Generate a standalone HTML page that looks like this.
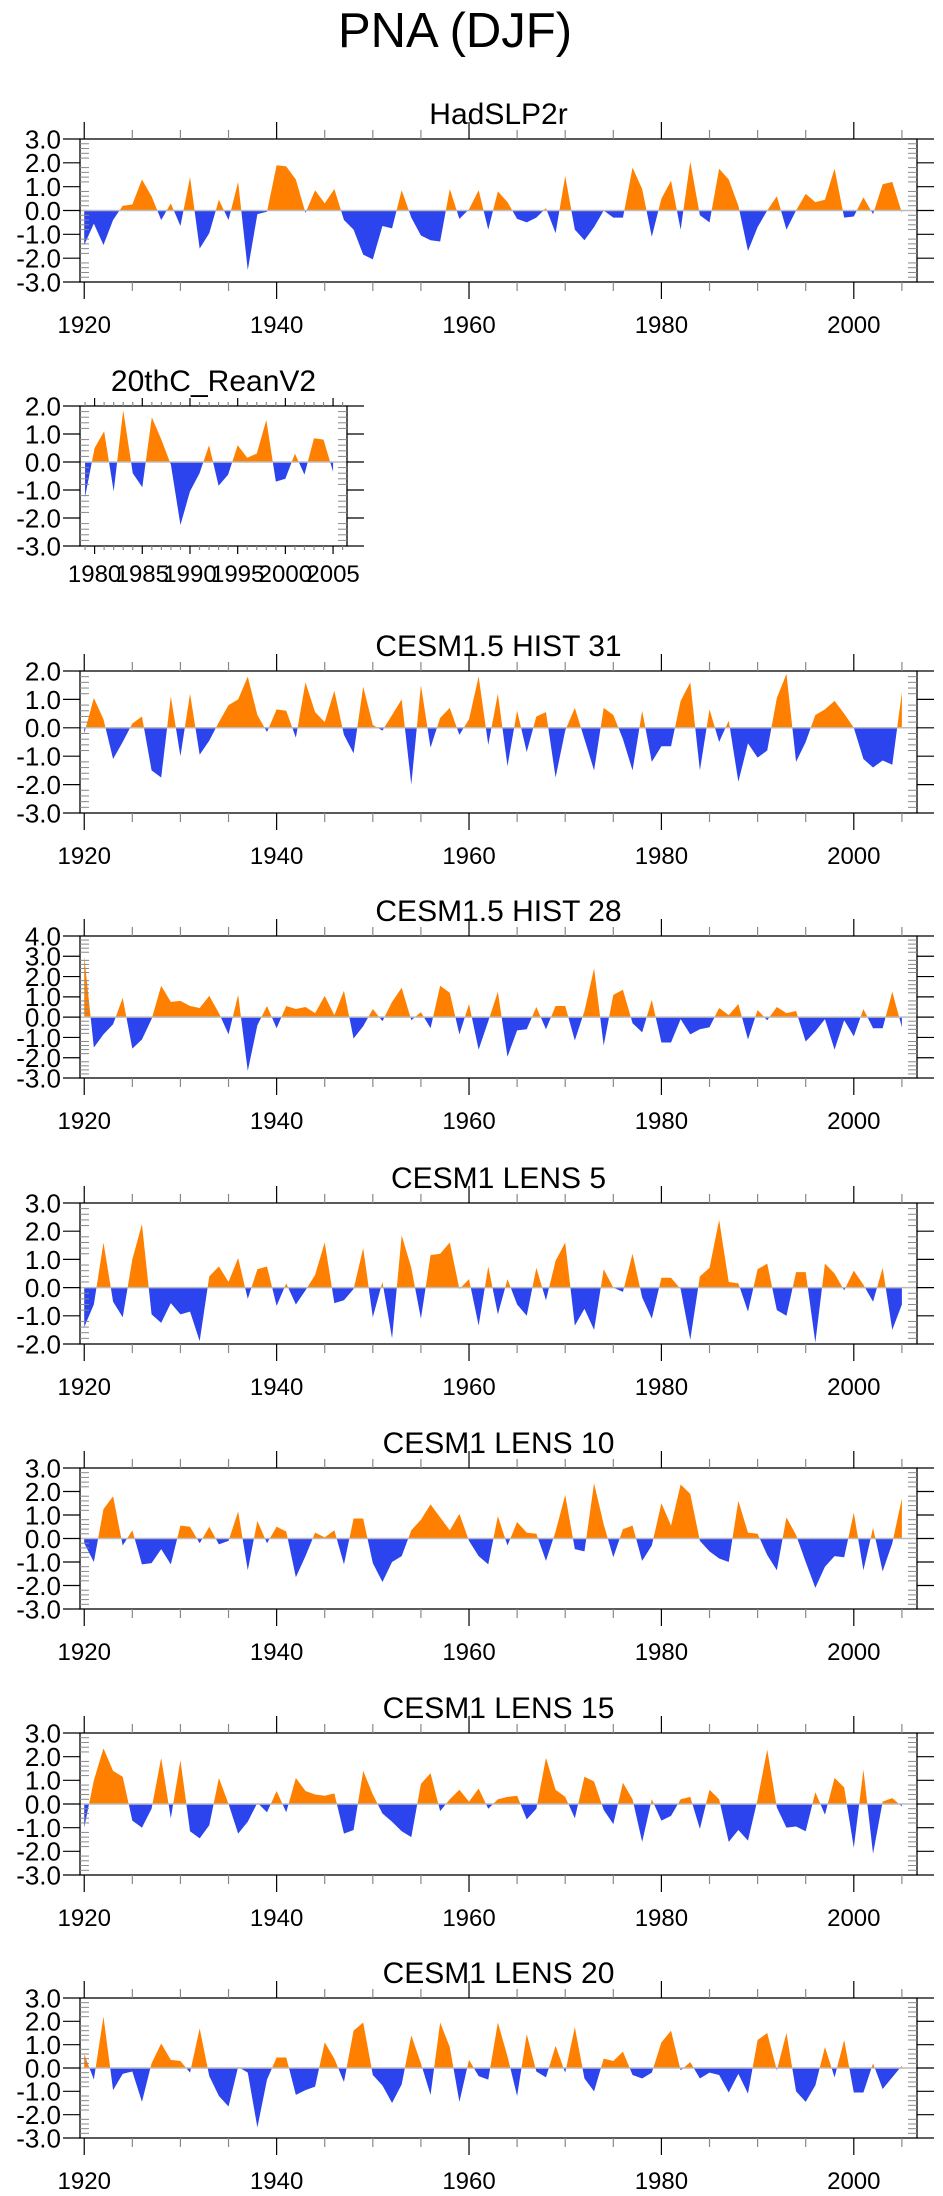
<!DOCTYPE html>
<html><head><meta charset="utf-8"><title>PNA (DJF)</title>
<style>html,body{margin:0;padding:0;background:#fff}svg{display:block}text{font-family:"Liberation Sans",sans-serif;fill:#000}</style>
</head><body>
<svg id="fig" width="943" height="2196" viewBox="0 0 943 2196" xmlns="http://www.w3.org/2000/svg">
<text x="455" y="47" font-size="49" text-anchor="middle">PNA (DJF)</text>
</svg>
<script>
const yearsStart = 1920;
const yearsEnd = 2005;
const reanStart = 1979;
const xTicksFull = [1920, 1940, 1960, 1980, 2000];
const xTicksRean = [1980, 1985, 1990, 1995, 2000, 2005];
const titles = ["HadSLP2r","20thC_ReanV2","CESM1.5 HIST 31","CESM1.5 HIST 28","CESM1 LENS 5","CESM1 LENS 10","CESM1 LENS 15","CESM1 LENS 20"];
const yRangeMin = [-3,-3,-3,-3,-2,-3,-3,-3];
const yRangeMax = [3,2,2,4,3,3,3,3];

const hadslp2r = [-1.45,-0.55,-1.45,-0.4,0.2,0.25,1.3,0.6,-0.4,0.3,-0.65,1.4,-1.6,-0.95,0.45,-0.4,1.2,-2.5,-0.15,-0.05,
1.9,1.85,1.3,-0.1,0.85,0.3,0.9,-0.4,-0.8,-1.85,-2.05,-0.65,-0.75,0.85,-0.3,-1.05,-1.25,-1.3,0.9,-0.35,
0.05,0.85,-0.8,0.8,0.35,-0.35,-0.5,-0.3,0.1,-0.95,1.45,-0.8,-1.25,-0.7,0.0,-0.3,-0.3,1.8,0.9,-1.1,
0.5,1.25,-0.8,2.05,-0.2,-0.5,1.75,1.3,0.2,-1.7,-0.7,0.0,0.6,-0.8,0.0,0.7,0.35,0.45,1.75,-0.3,
-0.25,0.55,-0.15,1.1,1.2,-0.1];
const reanV2 = [-1.25,0.5,1.1,-1.05,1.85,-0.4,-0.9,1.6,0.8,-0.1,-2.25,-1.05,-0.4,0.6,-0.85,-0.45,0.6,0.15,0.3,1.5,-0.7,-0.6,0.3,-0.45,0.85,0.8,-0.35];
const hist31 = [-0.2,1.05,0.3,-1.1,-0.5,0.15,0.4,-1.5,-1.75,1.1,-1.0,1.2,-0.95,-0.45,0.2,0.8,1.0,1.8,0.45,-0.15,
0.65,0.6,-0.35,1.6,0.55,0.2,1.3,-0.25,-0.9,1.45,0.1,-0.1,0.45,1.0,-2.0,1.5,-0.7,0.35,0.7,-0.25,
0.3,1.8,-0.6,1.2,-1.35,0.6,-0.85,0.4,0.55,-1.75,-0.1,0.7,-0.4,-1.5,0.7,0.45,-0.4,-1.5,0.6,-1.2,
-0.65,-0.65,0.95,1.6,-1.5,0.65,-0.5,0.25,-1.9,-0.55,-1.05,-0.8,1.05,1.9,-1.2,-0.5,0.45,0.65,0.95,0.5,
0.0,-1.1,-1.4,-1.15,-1.3,1.25];
const hist28 = [3.0,-1.5,-0.85,-0.35,0.95,-1.55,-1.1,-0.1,1.55,0.75,0.8,0.55,0.45,1.05,0.2,-0.85,1.1,-2.65,-0.4,0.55,
-0.55,0.55,0.4,0.5,0.2,1.05,0.1,1.3,-1.05,-0.45,0.4,-0.2,0.75,1.45,-0.15,0.25,-0.55,1.55,1.2,-0.85,
0.65,-1.6,-0.2,1.25,-1.95,-0.65,-0.6,0.5,-0.6,0.55,0.55,-1.15,0.3,2.4,-1.4,1.1,1.35,-0.3,-0.75,0.85,
-1.25,-1.25,-0.1,-0.85,-0.6,-0.5,0.45,0.1,0.65,-1.1,0.35,-0.15,0.5,0.2,0.3,-1.2,-0.7,-0.1,-1.6,-0.15,
-0.95,0.4,-0.55,-0.55,1.25,-0.5];
const lens5 = [-1.4,-0.6,1.6,-0.5,-1.05,1.0,2.25,-0.95,-1.25,-0.55,-0.95,-0.85,-1.9,0.4,0.75,0.2,1.05,-0.4,0.65,0.75,
-0.65,0.15,-0.6,-0.1,0.45,1.6,-0.55,-0.45,-0.05,1.4,-1.05,0.2,-1.8,1.85,0.7,-1.1,1.15,1.2,1.6,-0.05,
0.3,-1.35,0.75,-0.95,0.3,-0.6,-1.0,0.7,-0.45,0.95,1.6,-1.35,-0.75,-1.5,0.65,0.0,-0.15,1.2,-0.35,-1.1,
0.35,0.35,-0.05,-1.85,0.4,0.7,2.4,0.2,0.15,-0.85,0.65,0.85,-0.8,-1.0,0.55,0.55,-1.95,0.85,0.5,-0.1,
0.6,0.1,-0.5,0.7,-1.5,-0.6];
const lens10 = [-0.2,-1.0,1.25,1.8,-0.3,0.35,-1.1,-1.05,-0.45,-1.1,0.55,0.5,-0.2,0.5,-0.25,-0.1,1.15,-1.35,0.75,-0.2,
0.5,0.3,-1.65,-0.75,0.25,0.05,0.35,-1.1,0.85,0.85,-1.05,-1.85,-1.0,-0.75,0.35,0.8,1.45,0.9,0.35,1.05,
-0.1,-0.75,-1.1,0.95,-0.3,0.7,0.25,0.2,-0.95,0.3,1.85,-0.45,-0.55,2.35,0.6,-0.8,0.4,0.55,-0.95,-0.3,
1.5,0.55,2.3,1.9,-0.1,-0.55,-0.85,-1.0,1.6,0.25,0.2,-0.7,-1.35,0.9,0.15,-1.0,-2.1,-1.2,-0.75,-0.8,
1.1,-1.35,0.45,-1.4,-0.2,1.7];
const lens15 = [-1.0,1.0,2.35,1.4,1.15,-0.7,-1.0,-0.2,1.95,-0.6,1.85,-1.15,-1.45,-0.9,1.1,0.0,-1.25,-0.75,0.05,-0.35,
0.55,-0.35,1.1,0.55,0.4,0.35,0.45,-1.25,-1.1,1.4,0.4,-0.4,-0.75,-1.15,-1.4,0.85,1.3,-0.3,0.2,0.6,
0.1,0.65,-0.2,0.2,0.3,0.35,-0.65,-0.2,1.95,0.6,0.3,-0.6,1.15,0.95,-0.25,-0.85,0.9,0.2,-1.6,0.2,
-0.7,-0.5,0.2,0.3,-1.05,0.6,0.2,-1.6,-1.1,-1.55,0.2,2.3,-0.15,-1.0,-0.95,-1.15,0.5,-0.45,1.1,0.7,
-1.85,1.45,-2.1,0.1,0.25,-0.1];
const lens20 = [0.6,-0.5,2.2,-0.95,-0.25,-0.15,-1.45,0.2,1.05,0.35,0.3,-0.2,1.7,-0.35,-1.2,-1.65,0.05,-0.2,-2.55,-0.5,
0.45,0.45,-1.15,-0.95,-0.8,1.1,0.4,-0.6,1.6,1.95,-0.3,-0.75,-1.5,-0.7,1.4,0.2,-1.15,1.95,0.9,-1.45,
0.35,-0.35,-0.5,1.95,0.5,-1.2,1.45,-0.15,-0.4,0.95,-0.2,1.75,-0.45,-1.0,0.4,0.3,0.7,-0.3,-0.45,-0.2,
1.1,1.6,-0.1,0.25,-0.45,-0.2,-0.3,-1.05,-0.25,-1.1,1.2,1.5,-0.1,1.5,-1.0,-1.45,-0.75,0.9,-0.4,1.2,
-1.05,-1.05,0.2,-0.9,-0.4,0.1];

const seriesList = [hadslp2r, reanV2, hist31, hist28, lens5, lens10, lens15, lens20];
const seriesStart = [yearsStart, reanStart, yearsStart, yearsStart, yearsStart, yearsStart, yearsStart, yearsStart];

const NS = "http://www.w3.org/2000/svg";
const svg = document.getElementById('fig');
const frames = [[80,917,139,282],[80,347,406,546],[80,917,671,813],[80,917,936,1078],[80,917,1203,1344],[80,917,1468,1609],[80,917,1733,1875],[80,917,1998,2138]];
const xDom = [[1919.56,2006.57],[1978.47,2006.46]];
const YF = 26, XF = 24, TF = 30;

function mk(tag, attrs, parent){const e=document.createElementNS(NS,tag);for(const k in attrs)e.setAttribute(k,attrs[k]);parent.appendChild(e);return e;}

for(let p=0;p<8;p++){
  const [L,R,T,B]=frames[p];
  const dom = p===1?xDom[1]:xDom[0];
  const xs = v=>L+(v-dom[0])/(dom[1]-dom[0])*(R-L);
  const ymin=yRangeMin[p], ymax=yRangeMax[p];
  const ys = v=>B-(v-ymin)/(ymax-ymin)*(B-T);
  const g = mk('g',{},svg);
  
  
  const t = mk('text',{x:(L+R)/2,y:T-15,'font-size':TF,'text-anchor':'middle'},g);
  t.textContent=titles[p];
  
  
  const vals=seriesList[p], s0=seriesStart[p];
  const pts=[];
  for(let i=0;i<vals.length;i++){
    const yr=s0+i, v=vals[i];
    if(i>0){const v0=vals[i-1]; if((v0>0&&v<0)||(v0<0&&v>0)){const f=v0/(v0-v);pts.push([yr-1+f,0]);}}
    pts.push([yr,v]);
  }
  const y0=ys(0);
  let pos='M'+xs(pts[0][0])+','+y0, neg=pos;
  pts.forEach(q=>{pos+=' L'+xs(q[0]).toFixed(2)+','+ys(Math.max(q[1],0)).toFixed(2);neg+=' L'+xs(q[0]).toFixed(2)+','+ys(Math.min(q[1],0)).toFixed(2);});
  const xe=xs(pts[pts.length-1][0]);
  pos+=' L'+xe+','+y0+' Z'; neg+=' L'+xe+','+y0+' Z';
  const pp=mk('path',{d:pos,fill:'#ff8000'},g);
  
  
  const np=mk('path',{d:neg,fill:'#2b44ee'},g);
  
  
  const zl=mk('line',{x1:L,x2:R,y1:y0,y2:y0,stroke:'#bbbbbb','stroke-width':1.5},g);
  
  
  const fr=mk('rect',{x:L,y:T,width:R-L,height:B-T,fill:'none',stroke:'#000','stroke-width':1.3},g);
  
  
  for(let v=ymin; v<=ymax+1e-6; v+=1){
    const y=ys(v);
    mk('line',{x1:L-17,x2:L,y1:y,y2:y,stroke:'#000','stroke-width':1.2},g);
    mk('line',{x1:R,x2:R+17,y1:y,y2:y,stroke:'#000','stroke-width':1.2},g);
    const lt=mk('text',{x:61,y:y+YF*0.36,'font-size':YF,'text-anchor':'end'},g);
    lt.textContent=v.toFixed(1);
    
    
  }
  for(let k=0;k<=(ymax-ymin)*5;k++){
    if(k%5===0)continue;
    const y=ys(ymin+k*0.2);
    mk('line',{x1:L,x2:L+9,y1:y,y2:y,stroke:'#888','stroke-width':1},g);
    mk('line',{x1:R-9,x2:R,y1:y,y2:y,stroke:'#888','stroke-width':1},g);
  }
  if(p!==1){
    for(let yr=1920; yr<=2005; yr+=5){
      const x=xs(yr), major=(yr%20===0);
      const len=major?17:9;
      mk('line',{x1:x,x2:x,y1:T-len,y2:T,stroke:major?'#000':'#888','stroke-width':1.2},g);
      mk('line',{x1:x,x2:x,y1:B,y2:B+len,stroke:major?'#000':'#888','stroke-width':1.2},g);
    }
    xTicksFull.forEach(yr=>{const lt=mk('text',{x:xs(yr),y:B+51,'font-size':XF,'text-anchor':'middle'},g);lt.textContent=yr;
      
      });
  } else {
    for(let yr=1979; yr<=2006; yr++){
      const x=xs(yr), major=(yr%5===0);
      const len=major?8:4;
      mk('line',{x1:x,x2:x,y1:T-len,y2:T,stroke:major?'#000':'#888','stroke-width':1.2},g);
      mk('line',{x1:x,x2:x,y1:B,y2:B+len,stroke:major?'#000':'#888','stroke-width':1.2},g);
    }
    xTicksRean.forEach(yr=>{const lt=mk('text',{x:xs(yr),y:B+36,'font-size':XF,'text-anchor':'middle'},g);lt.textContent=yr;
      
      });
  }
}
</script>
</body></html>
